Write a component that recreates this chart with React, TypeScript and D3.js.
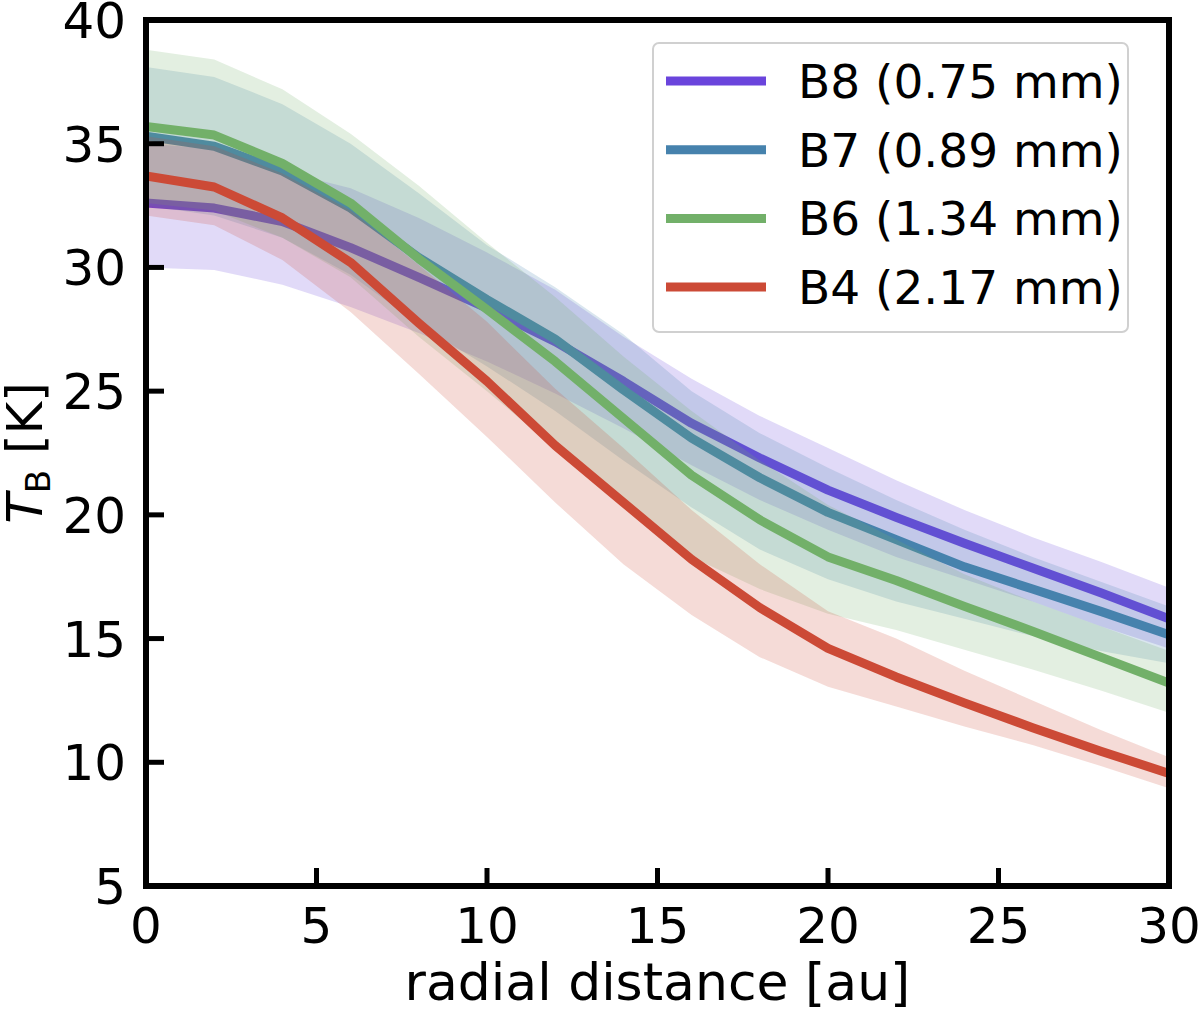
import React from 'react';
import * as d3 from 'd3';

// radial samples [au]
const radius = [0, 2, 4, 6, 8, 10, 12, 14, 16, 18, 20, 22, 24, 26, 28, 30];

// B8 (0.75 mm)
const b8Mid = [32.6, 32.4, 31.85, 30.8, 29.6, 28.35, 27.0, 25.4, 23.7, 22.3, 21.0, 19.9, 18.85, 17.85, 16.85, 15.8];
const b8Hi = [35.0, 34.8, 33.9, 33.2, 32.0, 30.6, 29.1, 27.2, 25.5, 24.0, 22.7, 21.4, 20.2, 19.1, 18.1, 17.05];
const b8Lo = [30.0, 29.9, 29.3, 28.4, 27.35, 26.2, 24.9, 23.5, 22.0, 20.6, 19.4, 18.3, 17.4, 16.5, 15.5, 14.6];

// B7 (0.89 mm)
const b7Mid = [35.3, 34.9, 33.9, 32.4, 30.4, 28.7, 27.1, 25.05, 23.1, 21.5, 20.1, 19.0, 17.9, 17.0, 16.1, 15.15];
const b7Hi = [38.1, 37.7, 36.6, 35.0, 33.0, 30.9, 29.2, 27.3, 25.0, 23.3, 21.9, 20.6, 19.4, 18.3, 17.3, 16.3];
const b7Lo = [32.5, 32.1, 31.2, 29.7, 27.7, 26.0, 24.2, 22.2, 20.3, 18.6, 17.4, 16.5, 15.8, 15.1, 14.5, 14.0];

// B6 (1.34 mm)
const b6Mid = [35.7, 35.35, 34.2, 32.6, 30.35, 28.3, 26.2, 23.9, 21.6, 19.8, 18.3, 17.35, 16.3, 15.3, 14.25, 13.2];
const b6Hi = [38.8, 38.4, 37.2, 35.4, 33.3, 31.0, 28.8, 26.4, 24.2, 22.2, 20.4, 19.0, 17.6, 16.5, 15.5, 14.5];
const b6Lo = [32.6, 32.3, 31.2, 29.6, 27.2, 25.0, 22.7, 20.5, 18.3, 17.0, 16.0, 15.35, 14.55, 13.75, 12.9, 12.0];

// B4 (2.17 mm)
const b4Mid = [33.7, 33.25, 32.0, 30.2, 27.75, 25.4, 22.8, 20.5, 18.2, 16.25, 14.6, 13.45, 12.4, 11.4, 10.45, 9.55];
const b4Hi = [35.3, 34.9, 33.8, 32.3, 30.1, 27.8, 25.1, 22.7, 20.2, 18.0, 16.1, 15.0, 13.7, 12.5, 11.3, 10.2];
const b4Lo = [32.1, 31.7, 30.3, 28.2, 25.7, 23.15, 20.5, 18.0, 15.95, 14.25, 13.05, 12.25, 11.45, 10.7, 9.85, 8.95];

const seriesNames = ['B8 (0.75 mm)', 'B7 (0.89 mm)', 'B6 (1.34 mm)', 'B4 (2.17 mm)'];
const seriesColors = ['#6a44dc', '#4682ad', '#72b069', '#cc4a36'];

const xTicks = [0, 5, 10, 15, 20, 25, 30];
const yTicks = [5, 10, 15, 20, 25, 30, 35, 40];

const W = 1200;
const H = 1012;
const plot = { left: 146, right: 1169, top: 20, bottom: 886 };
const FONT = 'DejaVu Sans, sans-serif';

export default function App() {
  const x = d3.scaleLinear().domain([0, 30]).range([plot.left, plot.right]);
  const y = d3.scaleLinear().domain([5, 40]).range([plot.bottom, plot.top]);

  const series = [
    { mid: b8Mid, hi: b8Hi, lo: b8Lo },
    { mid: b7Mid, hi: b7Hi, lo: b7Lo },
    { mid: b6Mid, hi: b6Hi, lo: b6Lo },
    { mid: b4Mid, hi: b4Hi, lo: b4Lo },
  ].map((s, i) => ({
    ...s,
    name: seriesNames[i],
    color: seriesColors[i],
    points: radius.map((r, j) => ({ r, mid: s.mid[j], hi: s.hi[j], lo: s.lo[j] })),
  }));

  type P = { r: number; mid: number; hi: number; lo: number };
  const line = d3.line<P>().x(d => x(d.r)).y(d => y(d.mid));
  const area = d3.area<P>().x(d => x(d.r)).y0(d => y(d.lo)).y1(d => y(d.hi));

  const legend = { x: 653, y: 43, w: 475, h: 289 };
  const rowStep = 68.7;

  return (
    <div style={{ position: 'absolute', left: 0, top: 0 }}>
      <svg width={W} height={H} style={{ display: 'block', background: '#fff' }} fontFamily={FONT}>
        <defs>
          <clipPath id="plot-clip">
            <rect x={plot.left} y={plot.top} width={plot.right - plot.left} height={plot.bottom - plot.top} />
          </clipPath>
        </defs>

        <g clipPath="url(#plot-clip)">
          {series.map(s => (
            <g key={s.name}>
              <path d={area(s.points) || ''} fill={s.color} fillOpacity={0.2} stroke="none" />
              <path d={line(s.points) || ''} fill="none" stroke={s.color} strokeWidth={9} strokeLinejoin="round" />
            </g>
          ))}
        </g>

        {/* ticks (inward) */}
        {xTicks.map(t => (
          <g key={'x' + t}>
            <line x1={x(t)} x2={x(t)} y1={plot.bottom} y2={plot.bottom - 18} stroke="#000" strokeWidth={5} />
            <text x={x(t)} y={plot.bottom + 57} textAnchor="middle" fontSize={50} fill="#000">{t}</text>
          </g>
        ))}
        {yTicks.map(t => (
          <g key={'y' + t}>
            <line x1={plot.left} x2={plot.left + 18} y1={y(t)} y2={y(t)} stroke="#000" strokeWidth={5} />
            <text x={126} y={y(t) + 18} textAnchor="end" fontSize={50} fill="#000">{t}</text>
          </g>
        ))}

        {/* frame */}
        <rect x={plot.left} y={plot.top} width={plot.right - plot.left} height={plot.bottom - plot.top}
          fill="none" stroke="#000" strokeWidth={6} />

        {/* axis titles */}
        <text x={(plot.left + plot.right) / 2} y={1000} textAnchor="middle" fontSize={52} fill="#000">
          radial distance [au]
        </text>
        <text transform={`translate(42,${(plot.top + plot.bottom) / 2}) rotate(-90)`} textAnchor="middle" fontSize={50} fill="#000">
          <tspan fontStyle="italic">T</tspan>
          <tspan fontSize={34} dy={8}>B</tspan>
          <tspan dy={-8}> [K]</tspan>
        </text>

        {/* legend */}
        <rect x={legend.x} y={legend.y} width={legend.w} height={legend.h} rx={6}
          fill="#fff" fillOpacity={0.8} stroke="#d0d0d0" strokeWidth={2} />
        {series.map((s, i) => {
          const cy = 81 + i * rowStep;
          return (
            <g key={'lg' + s.name}>
              <line x1={666} x2={766} y1={cy} y2={cy} stroke={s.color} strokeWidth={9} />
              <text x={798} y={cy + 17} fontSize={47} fill="#000">{s.name}</text>
            </g>
          );
        })}
      </svg>
    </div>
  );
}
